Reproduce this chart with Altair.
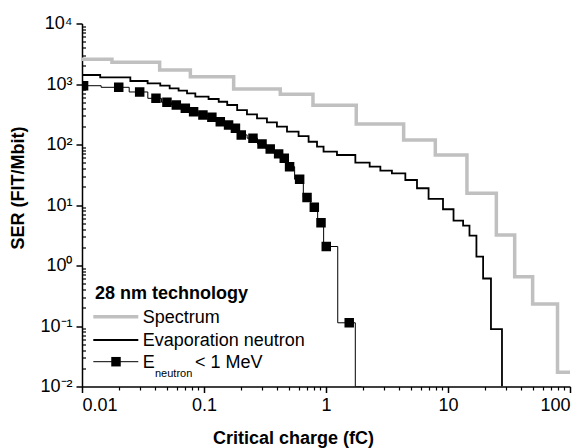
import altair as alt
import pandas as pd

# ---- data ----
spec_x = [0.01, 0.0176, 0.0433, 0.0773, 0.175, 0.422, 0.782, 1.77, 4.33, 7.87,
          14.3, 24.9, 35.2, 49.4, 79, 100]
spec_y = [2560, 2285, 1703, 1320, 827, 676, 445, 218, 119, 67,
          15.6, 3.19, 0.653, 0.231, 0.0172, 0.0172]

evap_x = [0.01, 0.0141, 0.0249, 0.0345, 0.0438, 0.0523, 0.0619, 0.0726, 0.0849,
          0.109, 0.132, 0.155, 0.187, 0.225, 0.272, 0.328, 0.396, 0.479, 0.596,
          0.720, 0.844, 0.955, 1.23, 1.74, 2.28, 2.79, 3.47, 4.47, 5.57, 6.93,
          9.1, 11.1, 13.3, 15.0, 17.1, 19.4, 22.5, 27.7]
evap_y = [1409, 1289, 1122, 1026, 938, 849, 775, 701, 617,
          565, 509, 450, 371, 315, 271, 232, 197, 163, 138,
          111, 92, 76, 67, 50, 43, 36.9, 33.4, 25.9, 18.9, 12.6,
          8.5, 5.5, 4.55, 3.11, 1.40, 0.61, 0.089, 0.01]

sq_x = [0.0103, 0.0200, 0.0297, 0.0404, 0.0497, 0.0593, 0.0703, 0.0822, 0.098,
        0.116, 0.136, 0.159, 0.181, 0.202, 0.252, 0.299, 0.349, 0.409, 0.455,
        0.503, 0.608, 0.699, 0.802, 0.910, 1.005, 1.55]
sq_y = [937, 882, 738, 580, 499, 450, 397, 348, 307,
        282, 238, 210, 185, 144, 127, 102, 84, 70, 59,
        43, 26.6, 13.3, 9.2, 5.1, 2.06, 0.113]
# end of the last step (drop to the axis)
sq_end_x = [1.95]
sq_end_y = [0.01]

x_major = [0.01, 0.1, 1, 10, 100]
y_major = [0.01, 0.1, 1, 10, 100, 1000, 10000]
x_minor = [k * 10.0 ** e for e in range(-2, 2) for k in range(2, 10)]
y_minor = [k * 10.0 ** e for e in range(-2, 4) for k in range(2, 10)]

legend_title = "28 nm technology"
legend_labels = ["Spectrum", "Evaporation neutron"]

FONT = "Liberation Sans"
W, H = 488, 363
GRAY = "#c0c0c0"
SQ = 90

spec_df = pd.DataFrame({"x": spec_x, "y": spec_y})
evap_df = pd.DataFrame({"x": evap_x, "y": evap_y})
sq_df = pd.DataFrame({"x": sq_x, "y": sq_y})
sqline_df = pd.DataFrame({"x": sq_x + sq_end_x, "y": sq_y + sq_end_y})
one = pd.DataFrame({"a": [0]})

xs = alt.Scale(type="log", domain=[0.01, 100], nice=False)
ys = alt.Scale(type="log", domain=[0.01, 10000], nice=False)

x_axis = alt.Axis(values=x_major, format="~g", tickSize=6, tickWidth=1.5,
                  domainWidth=1.5, domainColor="black", tickColor="black",
                  labelFont=FONT, labelFontSize=18, labelColor="black",
                  labelPadding=4, grid=False,
                  title="Critical charge (fC)", titleFont=FONT, titleFontSize=18,
                  titleFontWeight="bold", titleColor="black",
                  titleX=211, titleY=57, titleBaseline="alphabetic", titleAlign="center")
y_axis = alt.Axis(values=y_major,
                  labelExpr="'10' + ['⁻²','⁻¹','⁰','¹','²','³','⁴'][round(log(datum.value)/LN10)+2]",
                  tickSize=6, tickWidth=1.5, domainWidth=1.5, domainColor="black",
                  tickColor="black", labelFont=FONT, labelFontSize=18,
                  labelColor="black", labelPadding=4, grid=False,
                  title="SER (FIT/Mbit)", titleFont=FONT, titleFontSize=18,
                  titleFontWeight="bold", titleColor="black",
                  titleX=-64, titleY=164, titleAngle=270, titleBaseline="middle",
                  titleAlign="center")

spec = alt.Chart(spec_df).mark_line(interpolate="step-after", color=GRAY,
                                    strokeWidth=3.5, clip=True).encode(
    x=alt.X("x:Q", scale=xs, axis=x_axis),
    y=alt.Y("y:Q", scale=ys, axis=y_axis),
)
evap = alt.Chart(evap_df).mark_line(interpolate="step-after", color="black",
                                    strokeWidth=1.8, clip=True).encode(
    x=alt.X("x:Q", scale=xs, axis=None),
    y=alt.Y("y:Q", scale=ys, axis=None),
)
sqline = alt.Chart(sqline_df).mark_line(interpolate="step", color="black",
                                        strokeWidth=1, clip=True).encode(
    x=alt.X("x:Q", scale=xs, axis=None),
    y=alt.Y("y:Q", scale=ys, axis=None),
)
sqpts = alt.Chart(sq_df).mark_square(color="black", size=SQ, opacity=1,
                                     clip=True).encode(
    x=alt.X("x:Q", scale=xs, axis=None),
    y=alt.Y("y:Q", scale=ys, axis=None),
)
minor = alt.Chart(spec_df).mark_point(opacity=0).encode(
    x=alt.X("x:Q", scale=xs,
            axis=alt.Axis(orient="bottom", values=x_minor, labels=False,
                          domain=False, tickSize=3.5, tickWidth=1.2,
                          tickColor="black", grid=False, title=None)),
    y=alt.Y("y:Q", scale=ys,
            axis=alt.Axis(orient="right", offset=-W, values=y_minor,
                          labels=False, domain=False, tickSize=3.5,
                          tickWidth=1.2, tickColor="black", grid=False,
                          title=None)),
)

# ---- legend (drawn in pixel space inside the plot) ----
def txt(s, x, y, size=18, weight="normal"):
    return alt.Chart(one).mark_text(align="left", baseline="alphabetic",
                                    font=FONT, fontSize=size, fontWeight=weight,
                                    color="black").encode(
        x=alt.value(x), y=alt.value(y), text=alt.value(s))

def seg(y, color, width):
    return alt.Chart(one).mark_rule(color=color, strokeWidth=width).encode(
        x=alt.value(11.3), x2=alt.value(56.3), y=alt.value(y))

leg = [
    txt(legend_title, 13, 275.5, weight="bold"),
    seg(293.2, GRAY, 3.5),
    txt(legend_labels[0], 60.7, 299.2),
    seg(316.5, "black", 1.8),
    txt(legend_labels[1], 60.7, 322.2),
    seg(338.2, "black", 1),
    alt.Chart(one).mark_square(color="black", size=SQ, opacity=1).encode(
        x=alt.value(34), y=alt.value(338.2)),
    txt("E", 60.7, 344.8),
    txt("neutron", 73, 353.2, size=11),
    txt("< 1 MeV", 113, 344.8),
]

chart = alt.layer(spec, evap, sqline, sqpts, minor, *leg).resolve_axis(
    x="independent", y="independent"
).properties(
    width=W, height=H,
    autosize=alt.AutoSizeParams(type="none"),
    padding={"left": 82, "top": 23.5, "right": 16, "bottom": 61.5},
    background="white",
).configure_view(stroke=None)

chart.save("out.html", embed_options={"renderer": "svg", "actions": False})
